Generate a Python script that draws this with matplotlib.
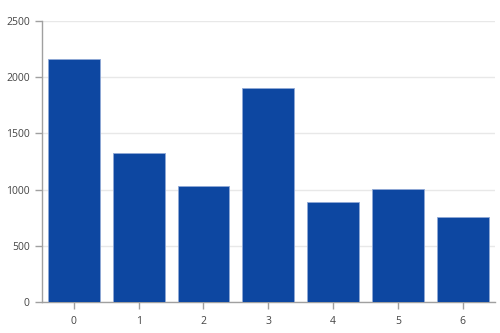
import matplotlib
matplotlib.use("Agg")
import matplotlib.pyplot as plt

# data
categories = [0, 1, 2, 3, 4, 5, 6]
values = [2165, 1330, 1035, 1900, 890, 1003, 755]
y_ticks = [0, 500, 1000, 1500, 2000, 2500]

plt.rcParams['font.family'] = ['Open Sans', 'DejaVu Sans']

fig = plt.figure(figsize=(5, 3.33), dpi=100)
ax = fig.add_axes([0.083, 0.093, 0.907, 0.844])

ax.bar(categories, values, width=0.8, color='#0D47A1',
       edgecolor='#8fa8d6', linewidth=0.6, zorder=3)

ax.set_xlim(-0.5, 6.5)
ax.set_ylim(0, 2500)
ax.set_xticks(categories)
ax.set_yticks(y_ticks)

ax.grid(axis='y', color='#e8e8e8', linewidth=1, zorder=0)
for side in ['top', 'right']:
    ax.spines[side].set_visible(False)
for side in ['left', 'bottom']:
    ax.spines[side].set_color('#a0a0a0')
    ax.spines[side].set_linewidth(1)

ax.tick_params(axis='both', colors='#a0a0a0', labelcolor='#444444',
               labelsize=7.5, length=5, width=1)
ax.tick_params(axis='x', pad=5)

fig.savefig('out.png', dpi=100, facecolor='white')
